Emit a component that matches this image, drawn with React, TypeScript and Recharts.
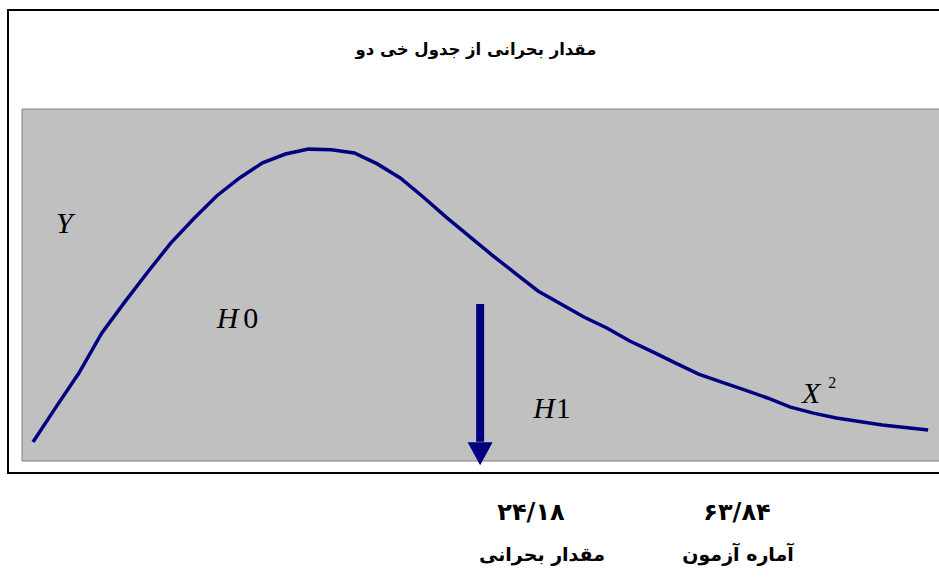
import React from 'react';
import {
  LineChart,
  Line,
  XAxis,
  YAxis,
  ReferenceArea,
  ReferenceLine,
  ReferenceDot
} from 'recharts';

// Curve heights (chi-square shaped density, 40 points)
const densityValues = [
  5.4, 15.3, 25.0, 36.4, 45.2, 53.7, 61.9, 68.8, 75.3, 80.4,
  84.7, 87.2, 88.6, 88.4, 87.5, 84.4, 80.4, 75.0, 69.3, 63.9,
  58.5, 53.4, 48.3, 44.6, 40.9, 37.8, 34.1, 31.0, 27.8, 24.7,
  22.4, 20.2, 17.9, 15.3, 13.6, 12.2, 11.2, 10.2, 9.5, 8.8
];

const chartTitle = 'مقدار بحرانی از جدول خی دو';
const statValues = ['۲۴/۱۸', '۶۳/۸۴'];
const statCaptions = ['مقدار بحرانی', 'آماره آزمون'];

// position of the critical value arrow, in chart units
const criticalX = 19.48;
const arrowTop = 44.6;
const arrowTip = -1.2;

const NAVY = '#000080';
const PERSIAN_FONT = 'DejaVu Sans, sans-serif';
const SERIF = 'Liberation Serif, serif';

const data = densityValues.map((value, i) => ({ x: i, value }));

// text annotation drawn at a data point
const textShape = (content: React.ReactNode) => (props: any) => (
  <text
    x={props.cx}
    y={props.cy}
    fontFamily={SERIF}
    fontSize={30}
    fill="#000"
  >
    {content}
  </text>
);

const arrowHead = (props: any) => {
  const { cx, cy } = props;
  return (
    <polygon
      points={`${cx - 12.5},${cy - 23} ${cx + 12.5},${cy - 23} ${cx},${cy}`}
      fill={NAVY}
    />
  );
};

const App: React.FC = () => {
  return (
    <div
      style={{
        position: 'absolute',
        left: 0,
        top: 0,
        width: 939,
        height: 584,
        overflow: 'hidden',
        background: '#fff'
      }}
    >
      <div
        style={{
          position: 'absolute',
          left: 7,
          top: 9,
          width: 980,
          height: 465,
          boxSizing: 'border-box',
          border: '2px solid #000'
        }}
      />
      <div
        style={{
          position: 'absolute',
          left: 0,
          top: 40,
          width: 952,
          textAlign: 'center',
          direction: 'rtl',
          fontFamily: PERSIAN_FONT,
          fontWeight: 'bold',
          fontSize: 16.5
        }}
      >
        {chartTitle}
      </div>

      <div style={{ position: 'absolute', left: 0, top: 0 }}>
        <LineChart
          width={960}
          height={584}
          data={data}
          margin={{ top: 109, left: 22, right: 5, bottom: 123 }}
        >
          <XAxis
            dataKey="x"
            type="number"
            domain={[-0.48, 40.17]}
            allowDataOverflow
            hide
          />
          <YAxis type="number" domain={[0, 100]} allowDataOverflow hide />
          <ReferenceArea
            x1={-0.48}
            x2={40.17}
            y1={0}
            y2={100}
            fill="#C0C0C0"
            fillOpacity={1}
            stroke="#808080"
            strokeWidth={1}
          />
          <Line
            type="linear"
            dataKey="value"
            stroke={NAVY}
            strokeWidth={3.5}
            dot={false}
            activeDot={false}
            isAnimationActive={false}
          />
          <ReferenceLine
            segment={[
              { x: criticalX, y: arrowTop },
              { x: criticalX, y: 5.5 }
            ]}
            stroke={NAVY}
            strokeWidth={8}
            ifOverflow="visible"
          />
          <ReferenceDot
            x={criticalX}
            y={arrowTip}
            ifOverflow="visible"
            shape={arrowHead}
          />
          <ReferenceDot
            x={1.0}
            y={64.8}
            ifOverflow="visible"
            shape={textShape(<tspan fontStyle="italic">Y</tspan>)}
          />
          <ReferenceDot
            x={8.0}
            y={37.8}
            ifOverflow="visible"
            shape={textShape(
              <>
                <tspan fontStyle="italic">H</tspan>
                <tspan dx={5}>0</tspan>
              </>
            )}
          />
          <ReferenceDot
            x={21.79}
            y={12.2}
            ifOverflow="visible"
            shape={textShape(
              <>
                <tspan fontStyle="italic">H</tspan>
                <tspan dx={1}>1</tspan>
              </>
            )}
          />
          <ReferenceDot
            x={33.5}
            y={16.5}
            ifOverflow="visible"
            shape={textShape(
              <>
                <tspan fontStyle="italic">X</tspan>
                <tspan dx={8} dy={-15} fontSize={16}>2</tspan>
              </>
            )}
          />
        </LineChart>
      </div>

      {statValues.map((v, i) => (
        <div
          key={`val-${i}`}
          style={{
            position: 'absolute',
            left: (i === 0 ? 531 : 737) - 60,
            top: 498,
            width: 120,
            textAlign: 'center',
            direction: 'rtl',
            fontFamily: PERSIAN_FONT,
            fontWeight: 'bold',
            fontSize: 24
          }}
        >
          {v}
        </div>
      ))}
      {statCaptions.map((c, i) => (
        <div
          key={`cap-${i}`}
          style={{
            position: 'absolute',
            left: (i === 0 ? 542 : 738) - 80,
            top: 543,
            width: 160,
            textAlign: 'center',
            direction: 'rtl',
            fontFamily: PERSIAN_FONT,
            fontWeight: 'bold',
            fontSize: 19
          }}
        >
          {c}
        </div>
      ))}
    </div>
  );
};

export default App;
